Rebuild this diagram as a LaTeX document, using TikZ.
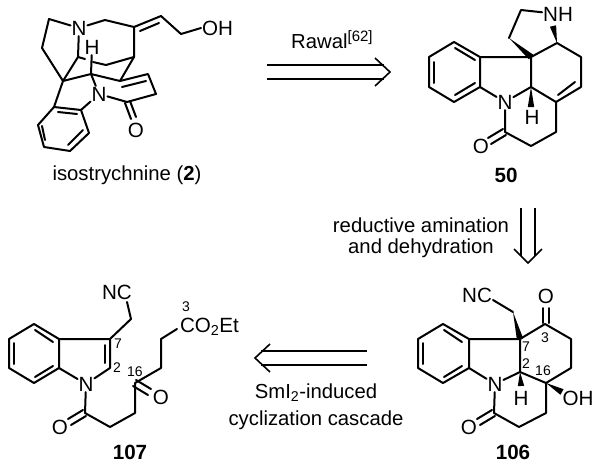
\documentclass[tikz,border=0pt]{standalone}
\usepackage{fontspec}
\setmainfont{Liberation Sans}
\usetikzlibrary{calc}
\newcommand{\wdg}[2]{\fill[black] (#1) -- ($(#2)!3.2pt!90:(#1)$) -- ($(#2)!3.2pt!-90:(#1)$) -- cycle;}
\tikzset{
  bond/.style={line width=2pt,line cap=round,line join=round,black},
  atom/.style={font=\fontsize{20.6}{24}\selectfont,inner sep=0.8pt,text=black},
  txt/.style={font=\fontsize{20.3}{24}\selectfont,inner sep=0pt,text=black},
  num/.style={font=\fontsize{14}{16}\selectfont,inner sep=0pt,text=black},
  cmpd/.style={font=\fontsize{20.6}{24}\selectfont\bfseries,inner sep=0pt,text=black},
  arrowline/.style={line width=1.6pt,line cap=butt,line join=miter,black},
}
\begin{document}
\begin{tikzpicture}[x=1pt,y=-1pt]
\useasboundingbox (0,0) rectangle (600,472);
\fill[white] (0,0) rectangle (600,472);

% ---------- isostrychnine (2)
\node[atom] (iN) at (79,28) {N};
\node[atom] (iNb) at (99,94) {N};
\node[atom] (iO) at (136,130) {O};
\node[atom,anchor=west] (iOH) at (201,28) {OH};
\node[atom] (iH) at (92,47) {H};
\coordinate (ia) at (49,19); \coordinate (ib) at (42,48); \coordinate (ic) at (63,81);
\coordinate (id) at (105,20); \coordinate (ie) at (134,27); \coordinate (if) at (161,16);
\coordinate (ig) at (181,34); \coordinate (ih) at (134,57); \coordinate (ij) at (106,65);
\coordinate (ik) at (78,57); \coordinate (il) at (85,59); \coordinate (ilb) at (93,62);
\coordinate (im) at (91,74);
\coordinate (io) at (120,81); \coordinate (ip) at (148,74); \coordinate (iq) at (156,94);
\coordinate (ir) at (127,102); \coordinate (is) at (54,107); \coordinate (it) at (81,110);
\coordinate (iu) at (89,133); \coordinate (iv) at (70,151); \coordinate (iw) at (44,147);
\coordinate (ix) at (38,125);
\draw[bond] (iN) -- (ia) -- (ib) -- (ic) -- (ik) -- (iN);
\draw[bond] (iN) -- (id) -- (ie) -- (if) -- (ig) -- (iOH.west);
\draw[bond] (140,31) -- (159,23);
\draw[bond] (ie) -- (ih) -- (ij) -- (ilb);
\draw[bond] (ik) -- (il);
\draw[bond] (iH) -- (im);
\draw[bond] (ic) -- (im) -- (io) -- (ih);
\draw[bond] (im) -- (iNb);
\draw[bond] (io) -- (ip) -- (iq) -- (ir) -- (iNb);
\draw[bond] (122,87) -- (146,81);
\draw[bond] (125,103) -- (131,119);
\draw[bond] (130,101) -- (136,117);
\draw[bond] (ic) -- (is) -- (it) -- (iu) -- (iv) -- (iw) -- (ix) -- (is);
\draw[bond] (it) -- (iNb);
\draw[bond] (58,112) -- (77,114);
\draw[bond] (68,145) -- (83,130);
\draw[bond] (45,140) -- (42,126);
\node[txt] (iLab) at (127,175) {isostrychnine (\textbf{2})};

% ---------- 50
\node[atom] (cN) at (505,102) {N};
\node[atom] (cNH) at (558,14) {NH};
\node[atom] (cH) at (532,117) {H};
\node[atom] (cO) at (481,146) {O};
\coordinate (ca) at (454,42); \coordinate (cb) at (480,57); \coordinate (cc) at (480,87);
\coordinate (cd) at (454,102); \coordinate (ce) at (429,87); \coordinate (cf) at (429,57);
\coordinate (cg) at (531,57); \coordinate (ch) at (509,38); \coordinate (cj) at (521,10);
\coordinate (ck) at (557,43); \coordinate (cl) at (581,57); \coordinate (cm) at (581,87);
\coordinate (cn) at (556,102); \coordinate (co) at (531,87); \coordinate (cp) at (505,132);
\coordinate (cq) at (531,146); \coordinate (cr) at (556,132);
\draw[bond] (ca) -- (cb) -- (cc) -- (cd) -- (ce) -- (cf) -- cycle;
\draw[bond] (455,48) -- (475,60);
\draw[bond] (455,95) -- (475,83);
\draw[bond] (434,62) -- (434,83);
\draw[bond] (cb) -- (cg) -- (co) -- (cN) -- (cc);
\draw[bond] (ch) -- (cj) -- (cNH);
\draw[bond] (cg) -- (ck) -- (cl) -- (cm) -- (cn) -- (co);
\draw[bond] (575,82) -- (558,95);
\draw[bond] (cn) -- (cr) -- (cq) -- (cp) -- (cN);
\draw[bond] (503,129) -- (488,138);
\draw[bond] (506,135) -- (491,144);
\wdg{ch}{cg}
\wdg{ck}{553,26}
\wdg{co}{531,107}
\node[cmpd] (cLab) at (506,175) {50};

% ---------- 107
\node[atom] (nN) at (86,384) {N};
\node[atom] (nNC) at (117,292) {NC};
\node[atom] (nOa) at (60,427) {O};
\node[atom] (nOb) at (161,397) {O};
\node[atom,anchor=west] (nEt) at (179,327) {CO\textsubscript{2}Et};
\coordinate (na) at (34,324); \coordinate (nb) at (59,339); \coordinate (nc) at (59,368);
\coordinate (nd) at (34,383); \coordinate (ne) at (9,368); \coordinate (nf) at (9,339);
\coordinate (ng) at (110,339); \coordinate (nh) at (110,368); \coordinate (nj) at (131,319);
\coordinate (nk) at (127,302); \coordinate (nl) at (85,413); \coordinate (nm) at (110,427);
\coordinate (nn) at (135,413); \coordinate (no) at (135,383); \coordinate (np) at (161,368);
\coordinate (nq) at (161,339); \coordinate (nr) at (177,329);
\draw[bond] (na) -- (nb) -- (nc) -- (nd) -- (ne) -- (nf) -- cycle;
\draw[bond] (35,330) -- (53,342);
\draw[bond] (35,377) -- (53,366);
\draw[bond] (14,343) -- (14,364);
\draw[bond] (nb) -- (ng) -- (nh) -- (nN) -- (nc);
\draw[bond] (105,345) -- (105,363);
\draw[bond] (ng) -- (nj) -- (nk);
\draw[bond] (nN) -- (nl) -- (nm) -- (nn) -- (no) -- (np) -- (nq) -- (nr);
\draw[bond] (83,410) -- (68,419);
\draw[bond] (86,416) -- (71,425);
\draw[bond] (136,380) -- (151,389);
\draw[bond] (133,386) -- (148,395);
\node[num] (n3) at (186,307) {3};
\node[num] (n7) at (118,344) {7};
\node[num] (n2) at (117,368) {2};
\node[num] (n16) at (135,372) {16};
\node[cmpd] (nLab) at (130,452) {107};

% ---------- 106
\node[atom] (mN) at (495,384) {N};
\node[atom] (mNC) at (477,295) {NC};
\node[atom] (mOa) at (546,296) {O};
\node[atom] (mOb) at (469,427) {O};
\node[atom] (mH) at (521,398) {H};
\node[atom] (mOH) at (578,398) {OH};
\coordinate (ma) at (443,324); \coordinate (mb) at (469,339); \coordinate (mc) at (469,368);
\coordinate (md) at (443,383); \coordinate (me) at (418,368); \coordinate (mf) at (418,339);
\coordinate (mg) at (520,339); \coordinate (mh) at (520,372); \coordinate (mj) at (513,312);
\coordinate (mk) at (493,300); \coordinate (ml) at (545,324); \coordinate (mm) at (571,339);
\coordinate (mn) at (571,368); \coordinate (mo) at (546,383); \coordinate (mp) at (546,413);
\coordinate (mq) at (519,427); \coordinate (mr) at (494,413);
\draw[bond] (ma) -- (mb) -- (mc) -- (md) -- (me) -- (mf) -- cycle;
\draw[bond] (444,330) -- (462,342);
\draw[bond] (444,377) -- (462,366);
\draw[bond] (423,343) -- (423,364);
\draw[bond] (mb) -- (mg) -- (mh) -- (mN) -- (mc);
\draw[bond] (mj) -- (mk);
\draw[bond] (mg) -- (ml) -- (mm) -- (mn) -- (mo) -- (mh);
\draw[bond] (mo) -- (mp) -- (mq) -- (mr) -- (mN);
\draw[bond] (543,323) -- (543,308);
\draw[bond] (549,323) -- (549,308);
\draw[bond] (492,410) -- (477,419);
\draw[bond] (495,416) -- (480,425);
\wdg{mj}{mg}
\wdg{mh}{521,386}
\wdg{mo}{562,392}
\node[num] (m3) at (545,338) {3};
\node[num] (m7) at (526,347) {7};
\node[num] (m2) at (526,364) {2};
\node[num] (m16) at (543,371) {16};
\node[cmpd] (mLab) at (513,452) {106};

% ---------- arrows
\node[txt,anchor=base west] (tRawal) at (291,48) {Rawal\raisebox{7pt}{\fontsize{15}{16}\selectfont[62]}};
\coordinate (ra) at (267,65); \coordinate (rb) at (384,65);
\coordinate (rc) at (267,79); \coordinate (rd) at (384,79);
\coordinate (rt) at (390,72); \coordinate (ru) at (375,58); \coordinate (rv) at (375,86);
\draw[arrowline] (ra) -- (rb);
\draw[arrowline] (rc) -- (rd);
\draw[arrowline] (ru) -- (rt) -- (rv);

\node[txt] (tRed) at (421,225) {reductive amination};
\node[txt] (tDeh) at (421,248) {and dehydration};
\coordinate (da) at (521,208); \coordinate (db) at (521,256);
\coordinate (dc) at (535,208); \coordinate (dd) at (535,256);
\coordinate (dt) at (528,263); \coordinate (du) at (514,249); \coordinate (dv) at (542,249);
\draw[arrowline] (da) -- (db);
\draw[arrowline] (dc) -- (dd);
\draw[arrowline] (du) -- (dt) -- (dv);

\coordinate (la) at (367,351); \coordinate (lb) at (261,351);
\coordinate (lc) at (367,365); \coordinate (ld) at (261,365);
\coordinate (lt) at (255,358); \coordinate (lu) at (270,344); \coordinate (lv) at (270,372);
\draw[arrowline] (la) -- (lb);
\draw[arrowline] (lc) -- (ld);
\draw[arrowline] (lu) -- (lt) -- (lv);
\node[txt] (tSm) at (316,393) {SmI\textsubscript{2}-induced};
\node[txt] (tCyc) at (316,420) {cyclization cascade};
\end{tikzpicture}
\end{document}
